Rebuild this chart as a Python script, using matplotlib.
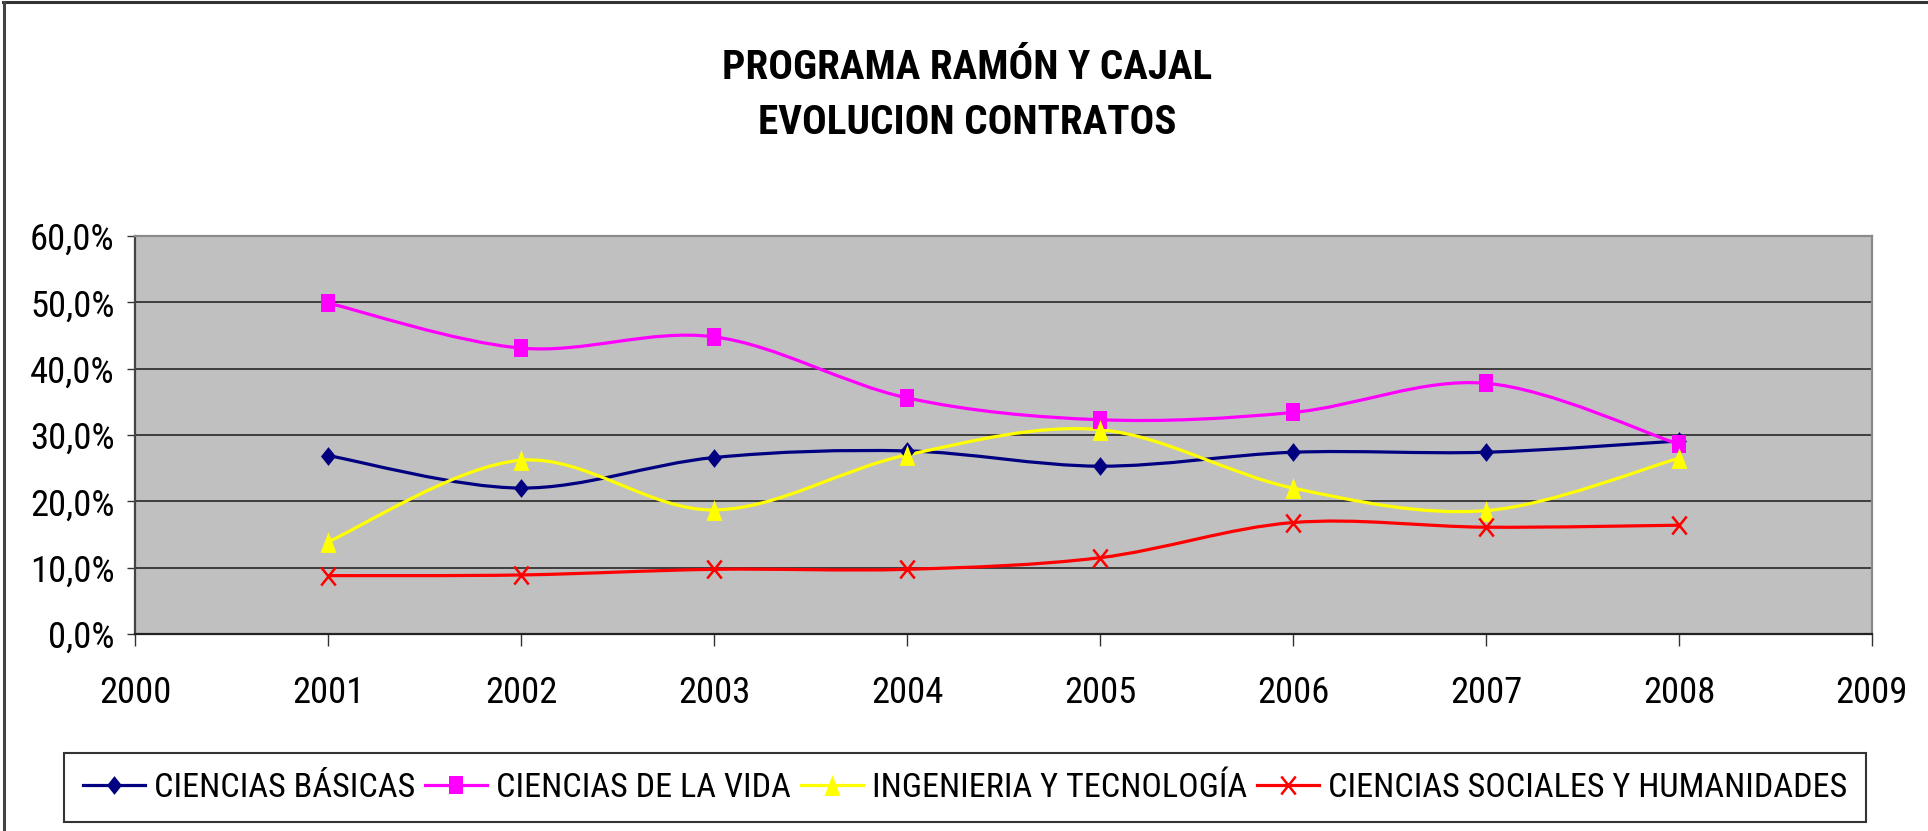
import matplotlib
matplotlib.use('Agg')
import matplotlib.pyplot as plt
from matplotlib import font_manager
from matplotlib.path import Path
from matplotlib.patches import PathPatch
from matplotlib.lines import Line2D

# data (percent of contracts per area)
years = [2001, 2002, 2003, 2004, 2005, 2006, 2007, 2008]
basicas = [26.9, 22.0, 26.6, 27.6, 25.3, 27.4, 27.4, 29.1]
vida = [49.9, 43.1, 44.8, 35.6, 32.3, 33.4, 37.8, 28.6]
ingenieria = [13.9, 26.2, 18.7, 27.0, 30.8, 22.0, 18.6, 26.5]
sociales = [8.8, 8.9, 9.75, 9.75, 11.5, 16.8, 16.1, 16.4]

labels = ['CIENCIAS BÁSICAS', 'CIENCIAS DE LA VIDA',
          'INGENIERIA Y TECNOLOGÍA', 'CIENCIAS SOCIALES Y HUMANIDADES']
colors = ['#000080', '#FF00FF', '#FFFF00', '#FF0000']
x_ticks = list(range(2000, 2010))
y_ticks = [0, 10, 20, 30, 40, 50, 60]
y_ticklabels = ['0,0%', '10,0%', '20,0%', '30,0%', '40,0%', '50,0%', '60,0%']

# the original uses a narrow sans; take one if it is installed
names = {f.name for f in font_manager.fontManager.ttflist}
narrow = [n for n in ['Liberation Sans Narrow', 'Arial Narrow', 'Roboto Condensed']
          if n in names]
if narrow:
    FAMILY, WF = narrow[0], 0.82
else:
    FAMILY, WF = 'Liberation Sans', 1.0
plt.rcParams['font.family'] = [FAMILY, 'DejaVu Sans']


def fsize(px_per_em):
    # font size in pt so that text width matches the reference
    return px_per_em / WF * 72 / 100


TICK_FS = fsize(30.0)
LEG_FS = fsize(28.0)
TITLE_FS = fsize(33.7)

diamond = [(0, 1), (0.8, 0), (0, -1), (-0.8, 0), (0, 1)]
square = [(-0.8, -1), (0.8, -1), (0.8, 1), (-0.8, 1), (-0.8, -1)]
triangle = [(0, 1), (0.76, -1), (-0.76, -1), (0, 1)]
cross = Path([(-0.8, -1), (0.8, 1), (-0.8, 1), (0.8, -1)],
             [Path.MOVETO, Path.LINETO, Path.MOVETO, Path.LINETO])
markers = [diamond, square, triangle, cross]
msizes = [13.5, 12.5, 15, 13]


def smooth_path(xs, ys):
    # excel style smoothed line: cubic bezier, catmull-rom tangents
    pts = list(zip(xs, ys))
    verts = [pts[0]]
    codes = [Path.MOVETO]
    n = len(pts)
    for i in range(n - 1):
        p0 = pts[i - 1] if i > 0 else pts[i]
        p1 = pts[i]
        p2 = pts[i + 1]
        p3 = pts[i + 2] if i + 2 < n else pts[i + 1]
        c1 = (p1[0] + (p2[0] - p0[0]) / 6, p1[1] + (p2[1] - p0[1]) / 6)
        c2 = (p2[0] - (p3[0] - p1[0]) / 6, p2[1] - (p3[1] - p1[1]) / 6)
        verts += [c1, c2, p2]
        codes += [Path.CURVE4] * 3
    return Path(verts, codes)


fig = plt.figure(figsize=(19.28, 8.31), dpi=100)
ax = fig.add_axes([0.07002, 0.23706, 0.9009, 0.47894])
ax.set_facecolor('#C0C0C0')

handles = []
for ys, lab, c, m, ms in zip([basicas, vida, ingenieria, sociales], labels,
                              colors, markers, msizes):
    ax.add_patch(PathPatch(smooth_path(years, ys), fill=False,
                           edgecolor=c, lw=2.3, zorder=3))
    filled = m is not cross
    ax.plot(years, ys, linestyle='none', marker=m, markersize=ms,
            color=c, markeredgewidth=0 if filled else 1.8, zorder=4)
    handles.append(Line2D([], [], color=c, lw=2.3, marker=m, markersize=ms,
                          markeredgewidth=0 if filled else 1.8))

ax.set_xlim(2000, 2009)
ax.set_ylim(0, 60)
ax.set_xticks(x_ticks)
ax.set_xticklabels([str(t) for t in x_ticks])
ax.set_yticks(y_ticks)
ax.set_yticklabels(y_ticklabels)
ax.yaxis.grid(True, color='#1a1a1a', lw=1.1)
ax.set_axisbelow(True)

ax.tick_params(axis='x', direction='out', length=8.6, width=1.0,
               color='#333333', pad=21, labelsize=TICK_FS)
ax.tick_params(axis='y', direction='out', length=5.8, width=1.0,
               color='#333333', pad=9, labelsize=TICK_FS)

ax.spines['left'].set_color('#444444')
ax.spines['bottom'].set_color('#222222')
ax.spines['top'].set_color('#8a8a8a')
ax.spines['right'].set_color('#8a8a8a')
for s in ax.spines.values():
    s.set_linewidth(1.6)

# title
fig.text(0.5015, 1 - 79 / 831, 'PROGRAMA RAMÓN Y CAJAL', ha='center',
         va='baseline', fontsize=TITLE_FS, fontweight='bold')
fig.text(0.5015, 1 - 134 / 831, 'EVOLUCION CONTRATOS', ha='center',
         va='baseline', fontsize=TITLE_FS, fontweight='bold')

lf = LEG_FS * 100 / 72
leg = fig.legend(handles, labels, loc='center', ncol=4,
                 bbox_to_anchor=(0.5005, 0.0523), fontsize=LEG_FS,
                 handlelength=62 / lf, handletextpad=9 / lf,
                 columnspacing=10 / lf, borderpad=0.55,
                 frameon=True, fancybox=False)
leg.get_frame().set_edgecolor('black')
leg.get_frame().set_linewidth(1.5)

# outer chart border (top and left visible)
fig.add_artist(Line2D([3 / 1928, 1], [1 - 2 / 831, 1 - 2 / 831],
                      transform=fig.transFigure, color='#333333', lw=2.2))
fig.add_artist(Line2D([4 / 1928, 4 / 1928], [0, 1 - 2 / 831],
                      transform=fig.transFigure, color='#444444', lw=2.2))

fig.savefig('out.png', dpi=100)
